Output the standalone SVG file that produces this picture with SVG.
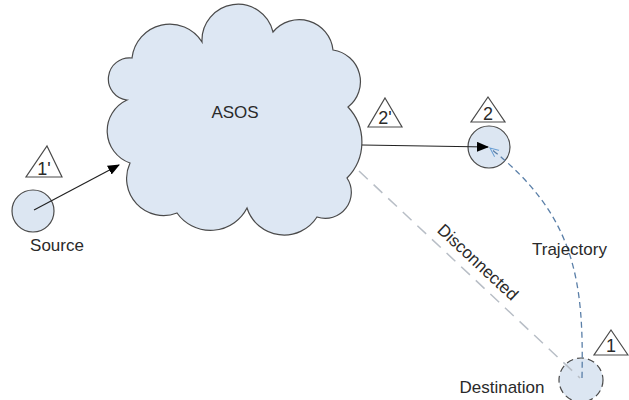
<svg xmlns="http://www.w3.org/2000/svg" width="629" height="400" viewBox="0 0 629 400">
<defs>
<marker id="ah" markerWidth="12" markerHeight="10" refX="11" refY="5" orient="auto" markerUnits="userSpaceOnUse">
<path d="M0,0 L12,5 L0,10 Z" fill="#000"/>
</marker>
<marker id="ahb" markerWidth="10" markerHeight="10" refX="9" refY="5" orient="auto" markerUnits="userSpaceOnUse">
<path d="M0,1 L9,5 L0,9" fill="none" stroke="#6a9fd4" stroke-width="1"/>
</marker>
</defs>
<style>
text{font-family:"Liberation Sans",Arial,sans-serif;fill:#2a2a2a;}
.lbl{font-size:17px;}
.node{fill:#dce6f2;stroke:#4a4a4a;stroke-width:1.2;}
.tri{fill:#fff;stroke:#4a4a4a;stroke-width:1.2;}
.tt{font-size:18px;text-anchor:middle;}
</style>
<g id="asos">
<path d="M132,58 A38,38 0 0 1 202,42 A36,36 0 0 1 273,32 A34,34 0 0 1 333,50 A32,32 0 0 1 348,107 A51,51 0 0 1 347,178 A26,26 0 0 1 317,217 A39,39 0 0 1 247,208 A41,41 0 0 1 177,213 A37,37 0 0 1 130,163 A34,34 0 0 1 127,100 A21,21 0 0 1 132,58 Z" fill="#dde7f3" stroke="#4a4a4a" stroke-width="1.2"/>
<text x="235" y="118" font-size="17" text-anchor="middle">ASOS</text>
</g>
<g id="source">
<circle class="node" cx="33" cy="211" r="21"/>
<text class="lbl" x="57" y="251" text-anchor="middle">Source</text>
<polygon class="tri" points="47,146 62,177 26,177"/>
<text class="tt" x="44" y="175">1'</text>
</g>
<g id="node2">
<circle class="node" cx="489" cy="147" r="21"/>
<polygon class="tri" points="488,97 505,122 471,122"/>
<text class="tt" x="488" y="120">2</text>
</g>
<g id="tri2p">
<polygon class="tri" points="385,98 402,127 368,127"/>
<text class="tt" x="385" y="124">2'</text>
</g>
<g id="destination">
<circle class="node" cx="581" cy="380" r="22" stroke-dasharray="7,4"/>
<text class="lbl" x="502" y="393" text-anchor="middle">Destination</text>
<polygon class="tri" points="611,330 628,355 594,355"/>
<text class="tt" x="611" y="352">1</text>
</g>
<g id="connectors">
<line x1="359" y1="171" x2="580" y2="378" stroke="#b8bec6" stroke-width="1.5" stroke-dasharray="12,8"/>
<path d="M582,378 C584,280 575,215 490,148" fill="none" stroke="#5a7fa8" stroke-width="1.3" stroke-dasharray="6,4" marker-end="url(#ahb)"/>
<line x1="34" y1="210" x2="119" y2="165" stroke="#222" stroke-width="1.2" marker-end="url(#ah)"/>
<line x1="362" y1="145" x2="488" y2="147" stroke="#222" stroke-width="1.2" marker-end="url(#ah)"/>
</g>
<g id="labels">
<text class="lbl" x="532" y="255">Trajectory</text>
<text class="lbl" transform="translate(478,262) rotate(43)" x="0" y="6" text-anchor="middle">Disconnected</text>
</g>
</svg>
